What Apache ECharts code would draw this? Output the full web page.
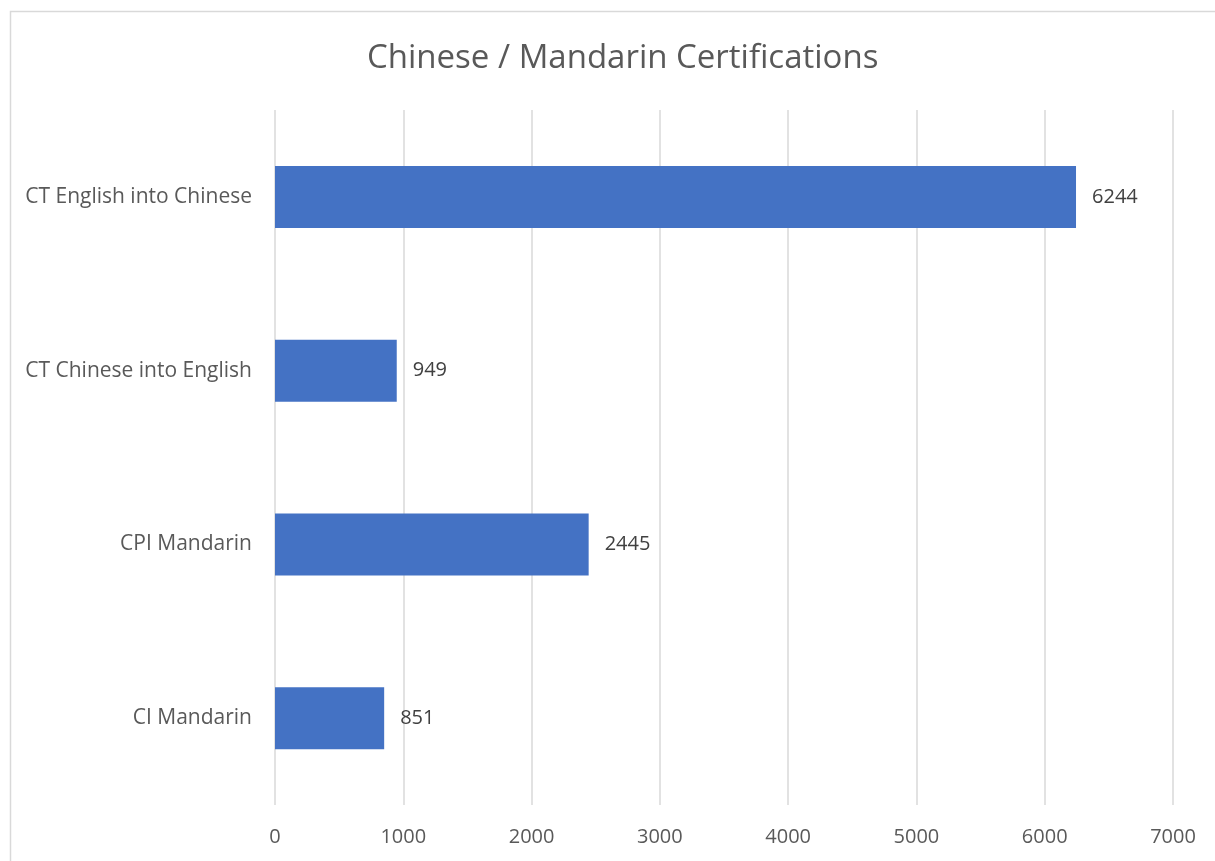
<!DOCTYPE html>
<html>
<head>
<meta charset="utf-8">
<script src="https://cdn.jsdelivr.net/npm/echarts@6/dist/echarts.min.js"></script>
<style>html,body{margin:0;padding:0;background:#fff;}#c{width:1215px;height:861px;}</style>
</head>
<body>
<div id="c"></div>
<script>
const categories = ["CT English into Chinese", "CT Chinese into English", "CPI Mandarin", "CI Mandarin"];
const values = [6244, 949, 2445, 851];
const titleText = "Chinese / Mandarin Certifications";

const chart = echarts.init(document.getElementById('c'));
const font = "'Open Sans', 'Liberation Sans', sans-serif";
chart.setOption({
  animation: false,
  backgroundColor: '#ffffff',
  title: {
    text: titleText,
    left: 362,
    top: 37,
    textStyle: { fontFamily: font, fontSize: 33, fontWeight: 'normal', color: '#595959' }
  },
  graphic: [{
    type: 'rect',
    shape: { x: 10.5, y: 11.5, width: 1230, height: 880 },
    style: { fill: 'none', stroke: '#d9d9d9', lineWidth: 1.5 },
    silent: true
  }],
  grid: { left: 275, right: 42, top: 110, bottom: 56, containLabel: false },
  xAxis: {
    type: 'value',
    min: 0, max: 7000, interval: 1000,
    axisLine: { show: false },
    axisTick: { show: false },
    splitLine: { show: true, lineStyle: { color: '#d9d9d9', width: 1.5 } },
    axisLabel: { fontFamily: font, fontSize: 20, color: '#595959', margin: 22, formatter: function (v) { return String(v); } }
  },
  yAxis: {
    type: 'category',
    data: categories,
    inverse: true,
    axisLine: { show: false },
    axisTick: { show: false },
    axisLabel: { fontFamily: font, fontSize: 21, color: '#595959', margin: 23 }
  },
  series: [{
    type: 'bar',
    data: values,
    barWidth: 62,
    itemStyle: { color: '#4472C4' },
    label: {
      show: true, position: 'right', distance: 16,
      fontFamily: font, fontSize: 20, color: '#404040'
    }
  }]
});
</script>
</body>
</html>
